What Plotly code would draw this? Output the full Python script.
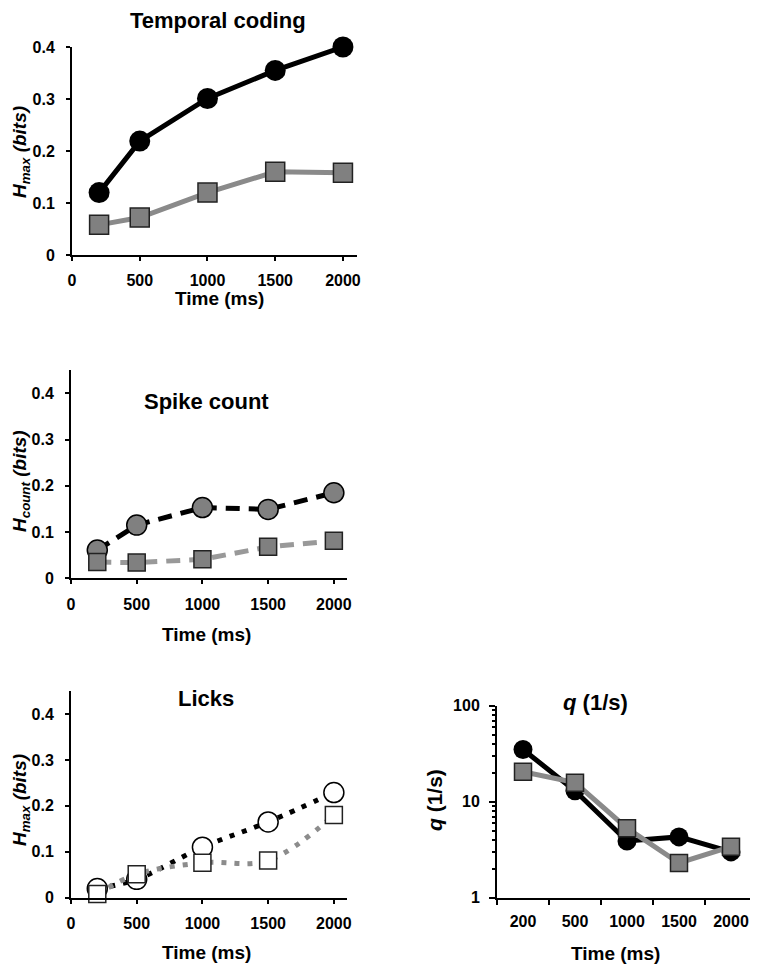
import plotly.graph_objects as go

# ---------------- data ----------------
times = [200, 500, 1000, 1500, 2000]
time_labels = ["200", "500", "1000", "1500", "2000"]

temporal_black = [0.120, 0.219, 0.301, 0.355, 0.400]
temporal_gray = [0.058, 0.072, 0.120, 0.160, 0.158]

count_black = [0.061, 0.115, 0.153, 0.149, 0.185]
count_gray = [0.035, 0.034, 0.041, 0.068, 0.081]

licks_black = [0.020, 0.040, 0.110, 0.165, 0.229]
licks_gray = [0.008, 0.051, 0.076, 0.081, 0.180]

q_black = [35, 13, 3.9, 4.3, 3.0]
q_gray = [20.5, 15.8, 5.3, 2.3, 3.4]

x_ticks = [0, 500, 1000, 1500, 2000]
h_ticks = [0, 0.1, 0.2, 0.3, 0.4]

# ---------------- figure ----------------
OFF = 8  # page body margin
W, H = 758 - OFF, 967 - OFF
FONT = "Liberation Sans, Arial, Helvetica, sans-serif"
GRAY_LINE = "#8a8a8a"
GRAY_FILL = "#808080"
OUTLINE = "#222222"


def px_x(p):
    return (p - OFF) / W


def px_y(p):
    return 1 - (p - OFF) / H


fig = go.Figure()

# Temporal coding (x, y)
fig.add_trace(go.Scatter(x=times, y=temporal_black, mode="lines+markers",
                         line=dict(color="black", width=5),
                         marker=dict(symbol="circle", size=21, color="black"),
                         xaxis="x", yaxis="y", cliponaxis=False, showlegend=False))
fig.add_trace(go.Scatter(x=times, y=temporal_gray, mode="lines+markers",
                         line=dict(color=GRAY_LINE, width=5),
                         marker=dict(symbol="square", size=19, color=GRAY_FILL,
                                     line=dict(color=OUTLINE, width=1.5)),
                         xaxis="x", yaxis="y", cliponaxis=False, showlegend=False))

# Spike count (x2, y2)
fig.add_trace(go.Scatter(x=times, y=count_black, mode="lines+markers",
                         line=dict(color="black", width=5, dash="14px,9px"),
                         marker=dict(symbol="circle", size=20, color=GRAY_FILL,
                                     line=dict(color="black", width=1.5)),
                         xaxis="x2", yaxis="y2", cliponaxis=False, showlegend=False))
fig.add_trace(go.Scatter(x=times, y=count_gray, mode="lines+markers",
                         line=dict(color="#999999", width=5, dash="14px,9px"),
                         marker=dict(symbol="square", size=17, color=GRAY_FILL,
                                     line=dict(color=OUTLINE, width=1.5)),
                         xaxis="x2", yaxis="y2", cliponaxis=False, showlegend=False))

# Licks (x3, y3)
fig.add_trace(go.Scatter(x=times, y=licks_black, mode="lines",
                         line=dict(color="black", width=5, dash="5px,8px",
                                   shape="spline", smoothing=1.0),
                         xaxis="x3", yaxis="y3", cliponaxis=False, showlegend=False))
fig.add_trace(go.Scatter(x=times, y=licks_gray, mode="lines",
                         line=dict(color="#8c8c8c", width=5, dash="5px,8px",
                                   shape="spline", smoothing=1.0),
                         xaxis="x3", yaxis="y3", cliponaxis=False, showlegend=False))
fig.add_trace(go.Scatter(x=times, y=licks_black, mode="markers",
                         marker=dict(symbol="circle", size=20, color="white",
                                     line=dict(color="black", width=1.5)),
                         xaxis="x3", yaxis="y3", cliponaxis=False, showlegend=False))
fig.add_trace(go.Scatter(x=times, y=licks_gray, mode="markers",
                         marker=dict(symbol="square", size=17, color="white",
                                     line=dict(color=OUTLINE, width=1.5)),
                         xaxis="x3", yaxis="y3", cliponaxis=False, showlegend=False))

# q (x4, y4)
fig.add_trace(go.Scatter(x=time_labels, y=q_black, mode="lines+markers",
                         line=dict(color="black", width=5),
                         marker=dict(symbol="circle", size=19, color="black"),
                         xaxis="x4", yaxis="y4", cliponaxis=False, showlegend=False))
fig.add_trace(go.Scatter(x=time_labels, y=q_gray, mode="lines+markers",
                         line=dict(color=GRAY_LINE, width=5),
                         marker=dict(symbol="square", size=17, color=GRAY_FILL,
                                     line=dict(color=OUTLINE, width=1.5)),
                         xaxis="x4", yaxis="y4", cliponaxis=False, showlegend=False))

tickfont = dict(family=FONT, size=16, color="black", weight="bold")
common = dict(showline=True, linecolor="black", linewidth=2, ticks="outside",
              tickcolor="black", tickwidth=2, ticklen=4, showgrid=False,
              zeroline=False, tickfont=tickfont, ticklabelstandoff=6,
              automargin=False)

xlin = dict(common, range=[0, 2100], tickmode="array", tickvals=x_ticks)
ylin = dict(common, tickmode="array", tickvals=h_ticks, ticklabelstandoff=8)

fig.update_layout(
    width=W, height=H,
    margin=dict(l=0, r=0, t=0, b=0, pad=0),
    paper_bgcolor="white", plot_bgcolor="white",
    font=dict(family=FONT, color="black"),
    xaxis=dict(xlin, domain=[px_x(72), px_x(356.5)], anchor="y"),
    yaxis=dict(ylin, domain=[px_y(255), px_y(47)], range=[0, 0.4], anchor="x"),
    xaxis2=dict(xlin, domain=[px_x(71), px_x(347)], anchor="y2"),
    yaxis2=dict(ylin, domain=[px_y(578.3), px_y(370.2)], range=[0, 0.45], anchor="x2"),
    xaxis3=dict(xlin, domain=[px_x(71), px_x(347)], anchor="y3"),
    yaxis3=dict(ylin, domain=[px_y(897.7), px_y(691.1)], range=[0, 0.45], anchor="x3"),
    xaxis4=dict(common, type="category", categoryorder="array",
                categoryarray=time_labels, range=[-0.5, 4.5], tickson="boundaries",
                ticklen=5, domain=[px_x(497), px_x(757)], anchor="y4",
                ticklabelstandoff=8),
    yaxis4=dict(common, type="log", range=[0, 2], dtick=1, ticklen=6,
                minor=dict(ticks="outside", ticklen=3, tickwidth=1.5,
                           tickcolor="black", dtick="D1"),
                domain=[px_y(897.7), px_y(705.7)], anchor="x4"),
)

ann = []


def add_text(text, x, y, size, angle=0):
    ann.append(dict(text=text, x=px_x(x), y=px_y(y), xref="paper", yref="paper",
                    showarrow=False, xanchor="center", yanchor="middle",
                    textangle=angle, font=dict(family=FONT, size=size, color="black")))


# panel titles
add_text("<b>Temporal coding</b>", 218, 21, 22)
add_text("<b>Spike count</b>", 206, 402, 22)
add_text("<b>Licks</b>", 206, 698, 22)
add_text("<b><i>q</i> (1/s)</b>", 595, 702, 22)

# x titles
add_text("<b>Time (ms)</b>", 219, 299, 19)
add_text("<b>Time (ms)</b>", 206, 634, 19)
add_text("<b>Time (ms)</b>", 206, 952, 19)
add_text("<b>Time (ms)</b>", 615, 953, 19)

# y titles
add_text("<b><i>H<sub>max</sub> (bits)</i></b>", 21, 152, 19, -90)
add_text("<b><i>H<sub>count</sub> (bits)</i></b>", 21, 481, 19, -90)
add_text("<b><i>H<sub>max</sub> (bits)</i></b>", 21, 800, 19, -90)
add_text("<b><i>q</i> (1/s)</b>", 434, 800, 21, -90)

fig.update_layout(annotations=ann)

fig.write_html("out.html")
